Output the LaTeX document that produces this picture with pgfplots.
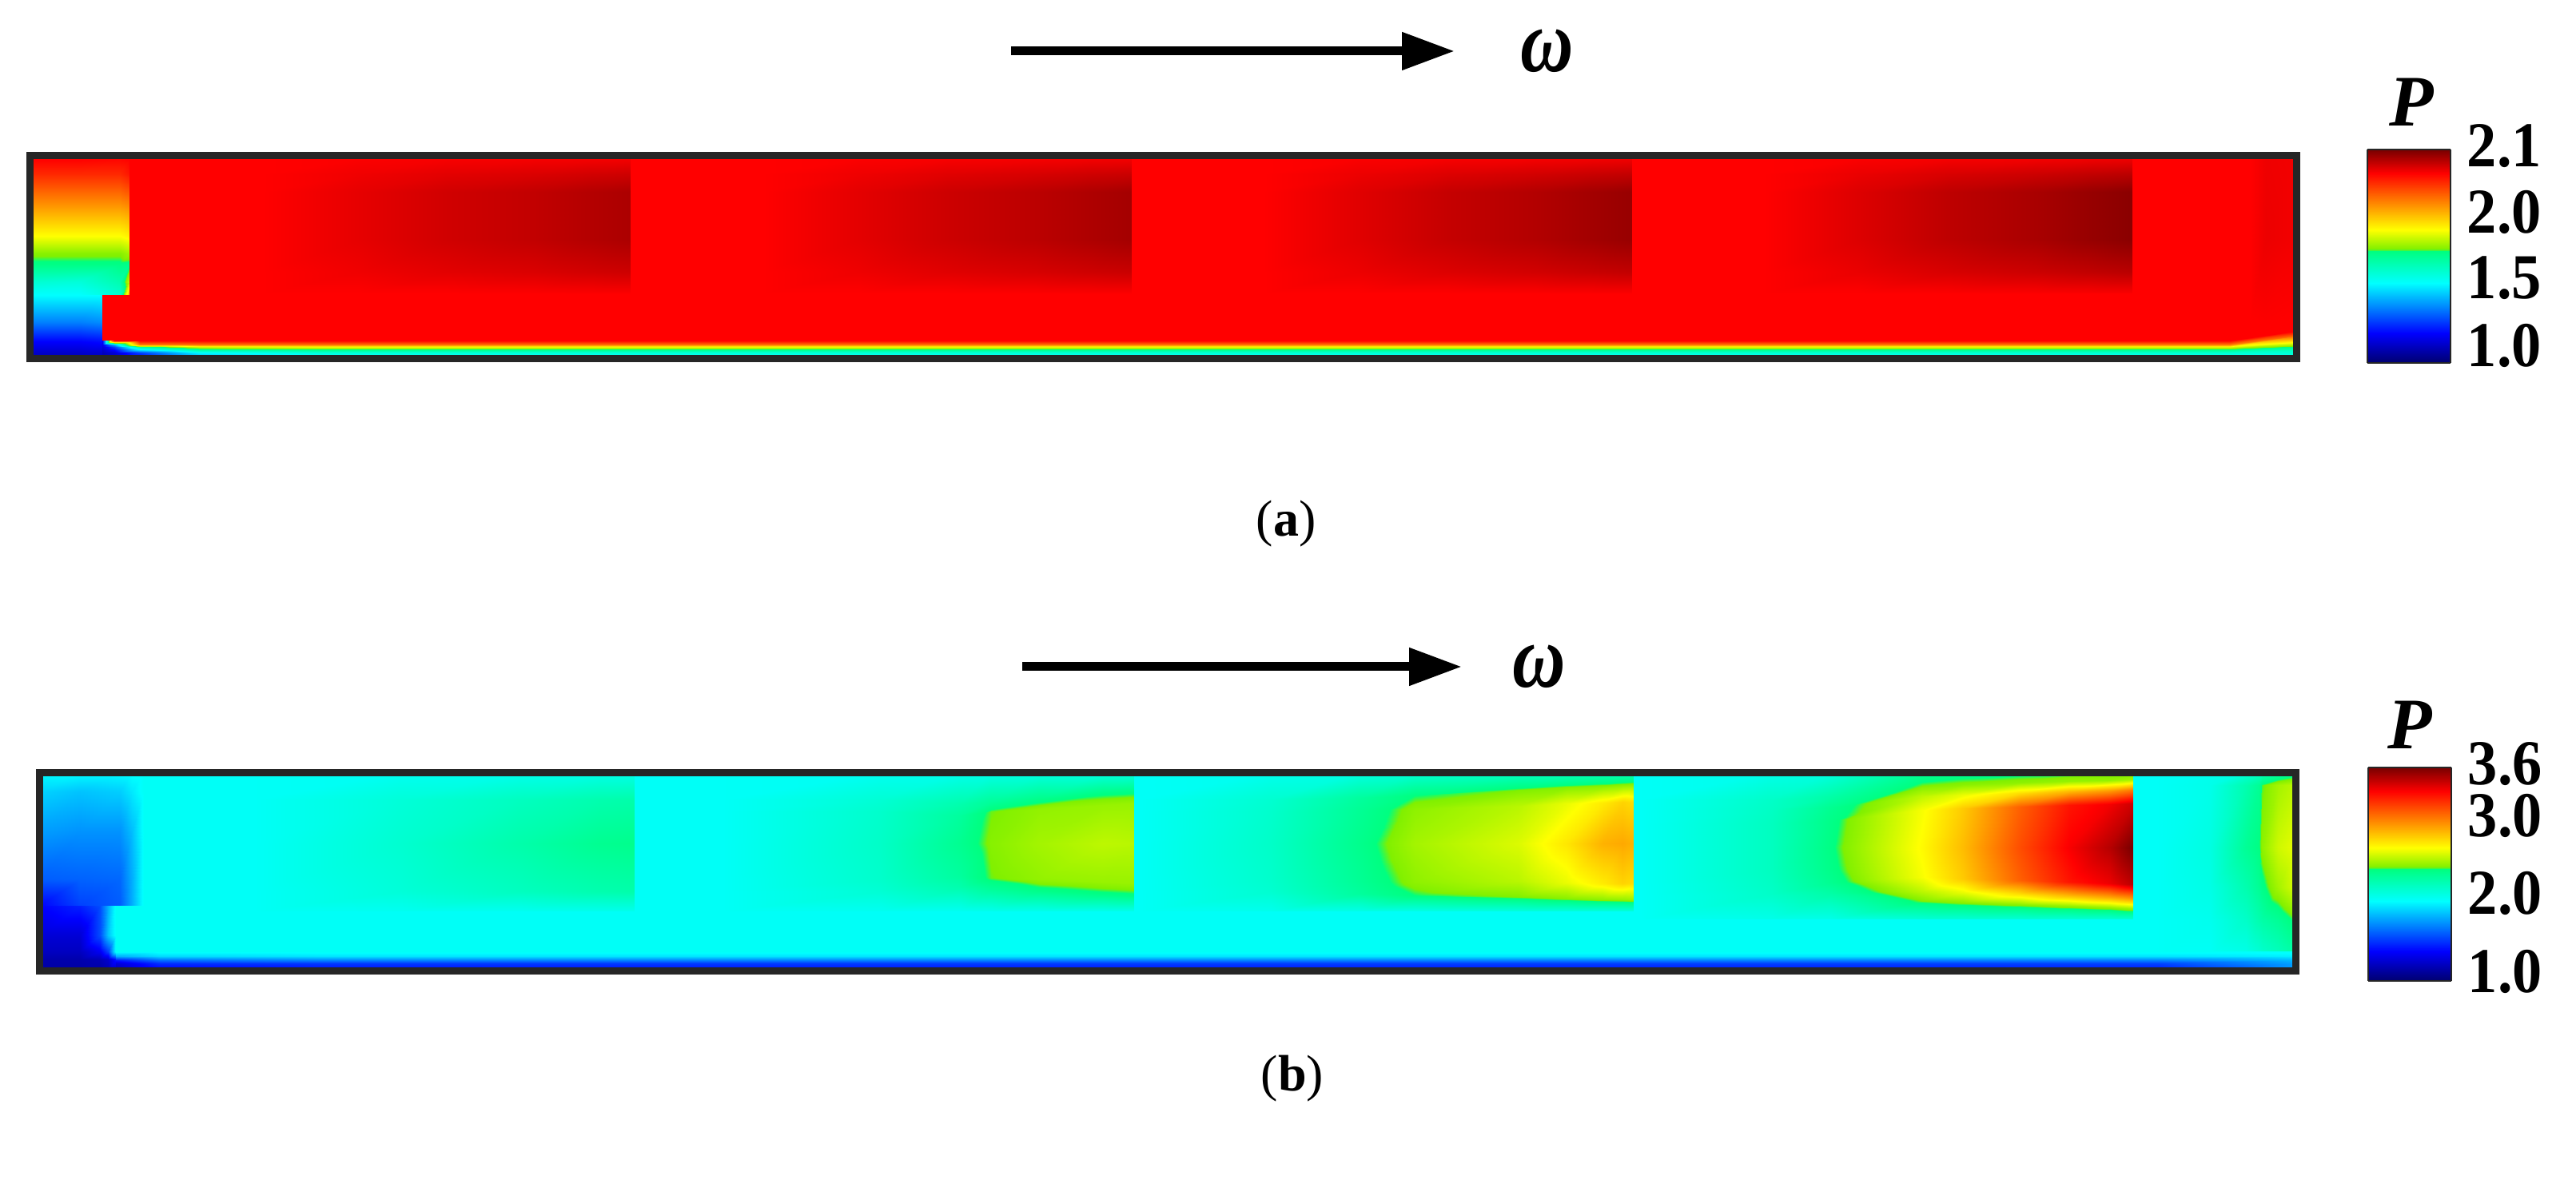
\documentclass[border=0pt]{standalone}
\usepackage{fontspec}
\setmainfont{Liberation Serif}
\newfontfamily\labfont[FakeStretch=0.93]{Liberation Serif}
\newfontfamily\omfont[FakeStretch=0.82]{Liberation Serif}
\usepackage{pgfplots}
\pgfplotsset{compat=1.18}
\usetikzlibrary{arrows.meta}

\definecolor{framecol}{HTML}{262626}

% value column = position on the colour scale (0 bottom, 1000 top of the bar),
% the printed scale is not linear in P
\pgfplotsset{
  field/.style={surf,shader=interp,point meta=explicit,mesh/cols=#1},
  panel/.style={
    scale only axis,
    y dir=reverse,
    xtick=\empty,ytick=\empty,
    axis on top,
    axis line style={draw=framecol,line width=2.25pt},
    colormap={pmap}{rgb255(0)=(0,0,110) rgb255(140)=(0,0,255) rgb255(375)=(0,255,255)
      rgb255(525)=(0,255,128) rgb255(535)=(128,240,0) rgb255(625)=(255,255,0)
      rgb255(890)=(255,0,0) rgb255(1000)=(120,0,0)},
    point meta min=0,point meta max=1000,
    colorbar sampled,
  },
  pbar/.style={
    width=26pt,height=66.75pt,
    scale only axis,
    samples=400,
    anchor=north west,
    axis on top,
    axis line style={draw=framecol,line width=0.5pt},
    tick style={draw=none},
    major tick length=0pt,
    yticklabel pos=right,
    yticklabel style={font=\labfont\fontsize{20}{24}\selectfont\bfseries,inner sep=0pt,xshift=5pt,anchor=west},
  },
}

\begin{document}
\begin{tikzpicture}
\useasboundingbox (0,0) rectangle (805.75pt,369pt);

\begin{axis}[panel,at={(9.375pt,256.875pt)},anchor=south west,width=709pt,height=63.5pt,
  xmin=37.5,xmax=2873.5,ymin=194.5,ymax=448.5,
  colorbar style={pbar,at={(1.0312,1.0295)},
    ytick={82,400,707,1000},
    yticklabels={1.0,1.5,2.0,\raisebox{2.5pt}{2.1}}}]
% background
\addplot[field=2] coordinates {(37,194) [890] (2874,194) [890]
  (37,449) [890] (2874,449) [890]};
% right end
\addplot[field=3] coordinates {
  (2815,199) [890] (2835,199) [903] (2868,199) [900]
  (2815,300) [890] (2835,300) [905] (2868,300) [900]
  (2815,400) [890] (2835,400) [892] (2868,400) [890]};
% inlet above the step
\addplot[field=4] coordinates {
  (37,199) [890] (100,199) [890] (150,199) [885] (162,199) [890]
  (37,217) [850] (100,217) [850] (150,217) [850] (162,217) [870]
  (37,263) [718] (100,263) [718] (150,263) [718] (162,263) [730]
  (37,295) [625] (100,295) [625] (150,295) [625] (162,295) [640]
  (37,317) [540] (100,317) [540] (150,317) [540] (162,317) [560]
  (37,330) [520] (100,330) [520] (150,330) [520] (162,330) [515]
  (37,352) [430] (100,352) [420] (150,352) [470] (162,352) [590]
  (37,369) [375] (100,369) [375] (150,369) [430] (162,369) [720]};
% inlet below the step
\addplot[field=3] coordinates {
  (37,369) [375] (100,369) [375] (128,369) [375]
  (37,403) [258] (100,403) [258] (128,403) [270]
  (37,427) [140] (100,427) [140] (128,427) [150]
  (37,449) [60] (100,449) [60] (128,449) [60]};
% bottom strip
\addplot[field=8] coordinates {
  (128,426) [130] (143,426) [890] (175,426) [890] (250,426) [890] (400,426) [890] (2700,426) [890] (2790,426) [890] (2874,414) [890]
  (128,431) [120] (143,431) [300] (175,431) [760] (250,431) [770] (400,431) [770] (2700,431) [760] (2790,431) [760] (2874,420) [780]
  (128,434) [100] (143,434) [200] (175,434) [480] (250,434) [590] (400,434) [610] (2700,434) [600] (2790,434) [600] (2874,428) [625]
  (128,437) [90] (143,437) [150] (175,437) [375] (250,437) [500] (400,437) [525] (2700,437) [520] (2790,437) [520] (2874,433) [530]
  (128,441) [75] (143,441) [100] (175,441) [200] (250,441) [375] (400,441) [420] (2700,441) [430] (2790,441) [430] (2874,438) [450]
  (128,449) [60] (143,449) [70] (175,449) [100] (250,449) [250] (400,449) [340] (2700,449) [350] (2790,449) [350] (2874,449) [380]};
% blade 1
\addplot[field=6] coordinates {
  (329,199) [890] (449,199) [893] (559,199) [896] (669,199) [898] (739,199) [899] (789,199) [900]
  (329,218) [890] (449,218) [902] (559,218) [913] (669,218) [920] (739,218) [927] (789,218) [931]
  (329,240) [890] (449,240) [910] (559,240) [928] (669,240) [940] (739,240) [951] (789,240) [958]
  (329,300) [890] (449,300) [910] (559,300) [928] (669,300) [940] (739,300) [951] (789,300) [958]
  (329,340) [890] (449,340) [902] (559,340) [913] (669,340) [920] (739,340) [927] (789,340) [931]
  (329,367) [890] (449,367) [890] (559,367) [890] (669,367) [891] (739,367) [892] (789,367) [892]};
% blade 2
\addplot[field=6] coordinates {
  (955,199) [890] (1075,199) [893] (1185,199) [896] (1295,199) [898] (1365,199) [900] (1415,199) [901]
  (955,218) [890] (1075,218) [903] (1185,218) [915] (1295,218) [923] (1365,218) [930] (1415,218) [934]
  (955,240) [890] (1075,240) [912] (1185,240) [931] (1295,240) [945] (1365,240) [956] (1415,240) [964]
  (955,300) [890] (1075,300) [912] (1185,300) [931] (1295,300) [945] (1365,300) [956] (1415,300) [964]
  (955,340) [890] (1075,340) [903] (1185,340) [915] (1295,340) [923] (1365,340) [930] (1415,340) [934]
  (955,367) [890] (1075,367) [890] (1185,367) [890] (1295,367) [891] (1365,367) [892] (1415,367) [892]};
% blade 3
\addplot[field=6] coordinates {
  (1581,199) [890] (1701,199) [894] (1811,199) [897] (1921,199) [899] (1991,199) [901] (2041,199) [903]
  (1581,218) [890] (1701,218) [905] (1811,218) [918] (1921,218) [927] (1991,218) [935] (2041,218) [940]
  (1581,240) [890] (1701,240) [915] (1811,240) [937] (1921,240) [952] (1991,240) [965] (2041,240) [974]
  (1581,300) [890] (1701,300) [915] (1811,300) [937] (1921,300) [952] (1991,300) [965] (2041,300) [974]
  (1581,340) [890] (1701,340) [905] (1811,340) [918] (1921,340) [927] (1991,340) [935] (2041,340) [940]
  (1581,367) [890] (1701,367) [890] (1811,367) [890] (1921,367) [891] (1991,367) [892] (2041,367) [892]};
% blade 4
\addplot[field=6] coordinates {
  (2207,199) [890] (2327,199) [894] (2437,199) [898] (2547,199) [900] (2617,199) [903] (2667,199) [905]
  (2207,218) [890] (2327,218) [907] (2437,218) [922] (2547,218) [932] (2617,218) [941] (2667,218) [947]
  (2207,240) [890] (2327,240) [918] (2437,240) [943] (2547,240) [960] (2617,240) [975] (2667,240) [985]
  (2207,300) [890] (2327,300) [918] (2437,300) [943] (2547,300) [960] (2617,300) [975] (2667,300) [985]
  (2207,340) [890] (2327,340) [907] (2437,340) [922] (2547,340) [932] (2617,340) [941] (2667,340) [947]
  (2207,367) [890] (2327,367) [890] (2437,367) [891] (2547,367) [892] (2617,367) [893] (2667,367) [893]};
\end{axis}

\begin{axis}[panel,at={(12.375pt,65.375pt)},anchor=south west,width=705.75pt,height=62pt,
  xmin=49.5,xmax=2872.5,ymin=966.5,ymax=1214.5,
  colorbar style={pbar,at={(1.0321,1.0262)},
    ytick={45,412,775,1000},
    yticklabels={1.0,2.0,3.0,\raisebox{2.5pt}{3.6}}}]
% background
\addplot[field=2] coordinates {(49,966) [385] (2873,966) [385]
  (49,1215) [385] (2873,1215) [385]};
% right end
\addplot[field=7] coordinates {
  (2700,966) [385] (2765,966) [395] (2810,966) [420] (2826,966) [440] (2830,966) [450] (2850,966) [480] (2873,966) [500]
  (2700,982) [385] (2765,982) [400] (2810,982) [470] (2826,982) [500] (2830,982) [530] (2850,982) [560] (2873,982) [580]
  (2700,1060) [385] (2765,1060) [410] (2810,1060) [500] (2826,1060) [520] (2830,1060) [545] (2850,1060) [590] (2873,1060) [610]
  (2700,1110) [385] (2765,1110) [405] (2810,1110) [470] (2826,1110) [500] (2830,1110) [515] (2850,1110) [560] (2873,1110) [600]
  (2700,1150) [385] (2765,1150) [395] (2810,1150) [440] (2826,1150) [470] (2830,1150) [480] (2850,1150) [500] (2873,1150) [535]
  (2700,1195) [385] (2765,1195) [385] (2810,1195) [400] (2826,1195) [420] (2830,1195) [430] (2850,1195) [450] (2873,1195) [480]};
% inlet above the step
\addplot[field=5] coordinates {
  (49,966) [375] (100,966) [375] (150,966) [375] (165,966) [380] (180,966) [385]
  (49,990) [335] (100,990) [320] (150,990) [330] (165,990) [355] (180,990) [385]
  (49,1040) [285] (100,1040) [275] (150,1040) [275] (165,1040) [315] (180,1040) [385]
  (49,1100) [225] (100,1100) [230] (150,1100) [235] (165,1100) [300] (180,1100) [385]
  (49,1133) [140] (100,1133) [200] (150,1133) [225] (165,1133) [300] (180,1133) [385]};
% inlet below the step
\addplot[field=5] coordinates {
  (49,1133) [140] (100,1133) [170] (125,1133) [210] (135,1133) [300] (145,1133) [385]
  (49,1170) [100] (100,1170) [100] (125,1170) [210] (135,1170) [320] (145,1170) [385]
  (49,1190) [80] (100,1190) [80] (125,1190) [130] (135,1190) [200] (145,1190) [385]
  (49,1200) [60] (100,1200) [60] (125,1200) [70] (135,1200) [90] (145,1200) [160]
  (49,1215) [50] (100,1215) [50] (125,1215) [50] (135,1215) [60] (145,1215) [60]};
% bottom strip
\addplot[field=5] coordinates {
  (145,1190) [385] (200,1190) [385] (400,1190) [385] (2700,1190) [385] (2873,1190) [385]
  (145,1196) [300] (200,1196) [340] (400,1196) [350] (2700,1196) [350] (2873,1196) [360]
  (145,1201) [160] (200,1201) [240] (400,1201) [260] (2700,1201) [260] (2873,1201) [310]
  (145,1205) [100] (200,1205) [180] (400,1205) [190] (2700,1205) [200] (2873,1205) [290]
  (145,1215) [60] (200,1215) [120] (400,1215) [140] (2700,1215) [150] (2873,1215) [280]};
% blade 1
\addplot[field=5] coordinates {
  (320,966) [385] (500,966) [390] (650,966) [395] (750,966) [400] (793,966) [400]
  (320,1000) [385] (500,1000) [420] (650,1000) [450] (750,1000) [470] (793,1000) [475]
  (320,1055) [385] (500,1055) [430] (650,1055) [475] (750,1055) [505] (793,1055) [510]
  (320,1115) [385] (500,1115) [420] (650,1115) [450] (750,1115) [470] (793,1115) [475]
  (320,1140) [385] (500,1140) [390] (650,1140) [390] (750,1140) [395] (793,1140) [395]};
% blade 2
\addplot[field=7] coordinates {
  (906,966) [385] (1100,966) [390] (1200,966) [395] (1240,966) [400] (1300,966) [405] (1380,966) [405] (1418,966) [405]
  (906,1000) [385] (1100,1000) [425] (1200,1005) [470] (1240,1003) [495] (1300,1000) [515] (1380,992) [520] (1418,990) [520]
  (906,1015) [385] (1100,1015) [435] (1200,1020) [490] (1240,1015) [533] (1300,1012) [548] (1380,1007) [552] (1418,1005) [552]
  (906,1055) [385] (1100,1055) [440] (1200,1055) [505] (1240,1055) [540] (1300,1055) [560] (1380,1055) [578] (1418,1055) [575]
  (906,1100) [385] (1100,1100) [435] (1200,1095) [490] (1240,1098) [533] (1300,1100) [548] (1380,1103) [552] (1418,1105) [552]
  (906,1115) [385] (1100,1115) [425] (1200,1110) [470] (1240,1112) [495] (1300,1114) [515] (1380,1118) [520] (1418,1120) [520]
  (906,1140) [385] (1100,1140) [390] (1200,1140) [390] (1240,1140) [395] (1300,1140) [395] (1380,1140) [395] (1418,1140) [395]};
% blade 3
\addplot[field=9] coordinates {
  (1425,966) [385] (1590,966) [395] (1700,966) [405] (1770,966) [420] (1900,966) [440] (1960,966) [445] (2005,966) [450] (2030,966) [450] (2043,966) [450]
  (1425,1000) [385] (1590,1000) [430] (1700,998) [490] (1770,995) [525] (1900,988) [535] (1960,985) [540] (2005,984) [545] (2030,983) [550] (2043,983) [555]
  (1425,1015) [385] (1590,1015) [435] (1700,1013) [500] (1770,1012) [545] (1900,1008) [575] (1960,1005) [610] (2005,1004) [645] (2030,1003) [670] (2043,1003) [660]
  (1425,1055) [385] (1590,1055) [440] (1700,1055) [510] (1770,1055) [560] (1900,1055) [600] (1960,1055) [650] (2005,1055) [705] (2030,1055) [715] (2043,1055) [705]
  (1425,1100) [385] (1590,1100) [435] (1700,1103) [500] (1770,1103) [545] (1900,1102) [575] (1960,1104) [610] (2005,1105) [645] (2030,1105) [670] (2043,1105) [660]
  (1425,1115) [385] (1590,1115) [430] (1700,1118) [490] (1770,1120) [525] (1900,1122) [535] (1960,1124) [540] (2005,1125) [545] (2030,1125) [550] (2043,1125) [555]
  (1425,1140) [385] (1590,1140) [395] (1700,1140) [400] (1770,1140) [400] (1900,1140) [410] (1960,1140) [410] (2005,1140) [410] (2030,1140) [410] (2043,1140) [410]};
% blade 4
\addplot[field=9] coordinates {
  (2053,966) [385] (2216,966) [400] (2290,966) [410] (2405,966) [500] (2456,966) [510] (2527,966) [515] (2589,966) [520] (2640,966) [525] (2668,966) [530]
  (2053,1000) [385] (2216,1000) [440] (2290,997) [480] (2405,983) [535] (2456,981) [540] (2527,979) [545] (2589,977) [550] (2640,976) [550] (2668,975) [560]
  (2053,1013) [385] (2216,1013) [445] (2290,1010) [505] (2405,996) [580] (2456,994) [610] (2527,992) [660] (2589,990) [700] (2640,989) [730] (2668,988) [760]
  (2053,1030) [385] (2216,1030) [450] (2290,1027) [515] (2405,1013) [620] (2456,1011) [680] (2527,1009) [790] (2589,1007) [870] (2640,1006) [900] (2668,1005) [930]
  (2053,1060) [385] (2216,1060) [450] (2290,1060) [520] (2405,1060) [630] (2456,1060) [695] (2527,1060) [810] (2589,1060) [895] (2640,1060) [950] (2668,1060) [1000]
  (2053,1090) [385] (2216,1088) [450] (2290,1087) [515] (2405,1097) [620] (2456,1099) [680] (2527,1101) [790] (2589,1103) [870] (2640,1105) [905] (2668,1106) [945]
  (2053,1107) [385] (2216,1105) [445] (2290,1104) [505] (2405,1114) [580] (2456,1116) [610] (2527,1118) [660] (2589,1120) [700] (2640,1122) [720] (2668,1123) [740]
  (2053,1120) [385] (2216,1118) [440] (2290,1117) [480] (2405,1127) [535] (2456,1129) [540] (2527,1131) [545] (2589,1133) [550] (2640,1135) [550] (2668,1136) [560]
  (2053,1150) [385] (2216,1150) [400] (2290,1150) [400] (2405,1150) [420] (2456,1150) [420] (2527,1150) [420] (2589,1150) [420] (2640,1150) [420] (2668,1150) [420]};
\end{axis}

% rotation arrows and labels
\draw[line width=2.75pt,-{Triangle[length=16.5pt,width=11.25pt]}] (316.25pt,353pt) -- (455pt,353pt);
\draw[line width=2.75pt,-{Triangle[length=16.5pt,width=11.25pt]}] (319.75pt,160.5pt) -- (457.25pt,160.5pt);
\node[font=\omfont\fontsize{28}{30}\selectfont\bfseries\itshape] at (484pt,353pt) {ω};
\node[font=\omfont\fontsize{28}{30}\selectfont\bfseries\itshape] at (481.5pt,160.5pt) {ω};
\node[font=\fontsize{22.7}{26}\selectfont\bfseries\itshape] at (754.25pt,337pt) {P};
\node[font=\fontsize{22.7}{26}\selectfont\bfseries\itshape] at (753.75pt,142.25pt) {P};
\node[font=\fontsize{16}{20}\selectfont] at (402.25pt,205.25pt) {(\textbf{a})};
\node[font=\fontsize{16}{20}\selectfont] at (404.25pt,31.75pt) {(\textbf{b})};
\end{tikzpicture}
\end{document}
